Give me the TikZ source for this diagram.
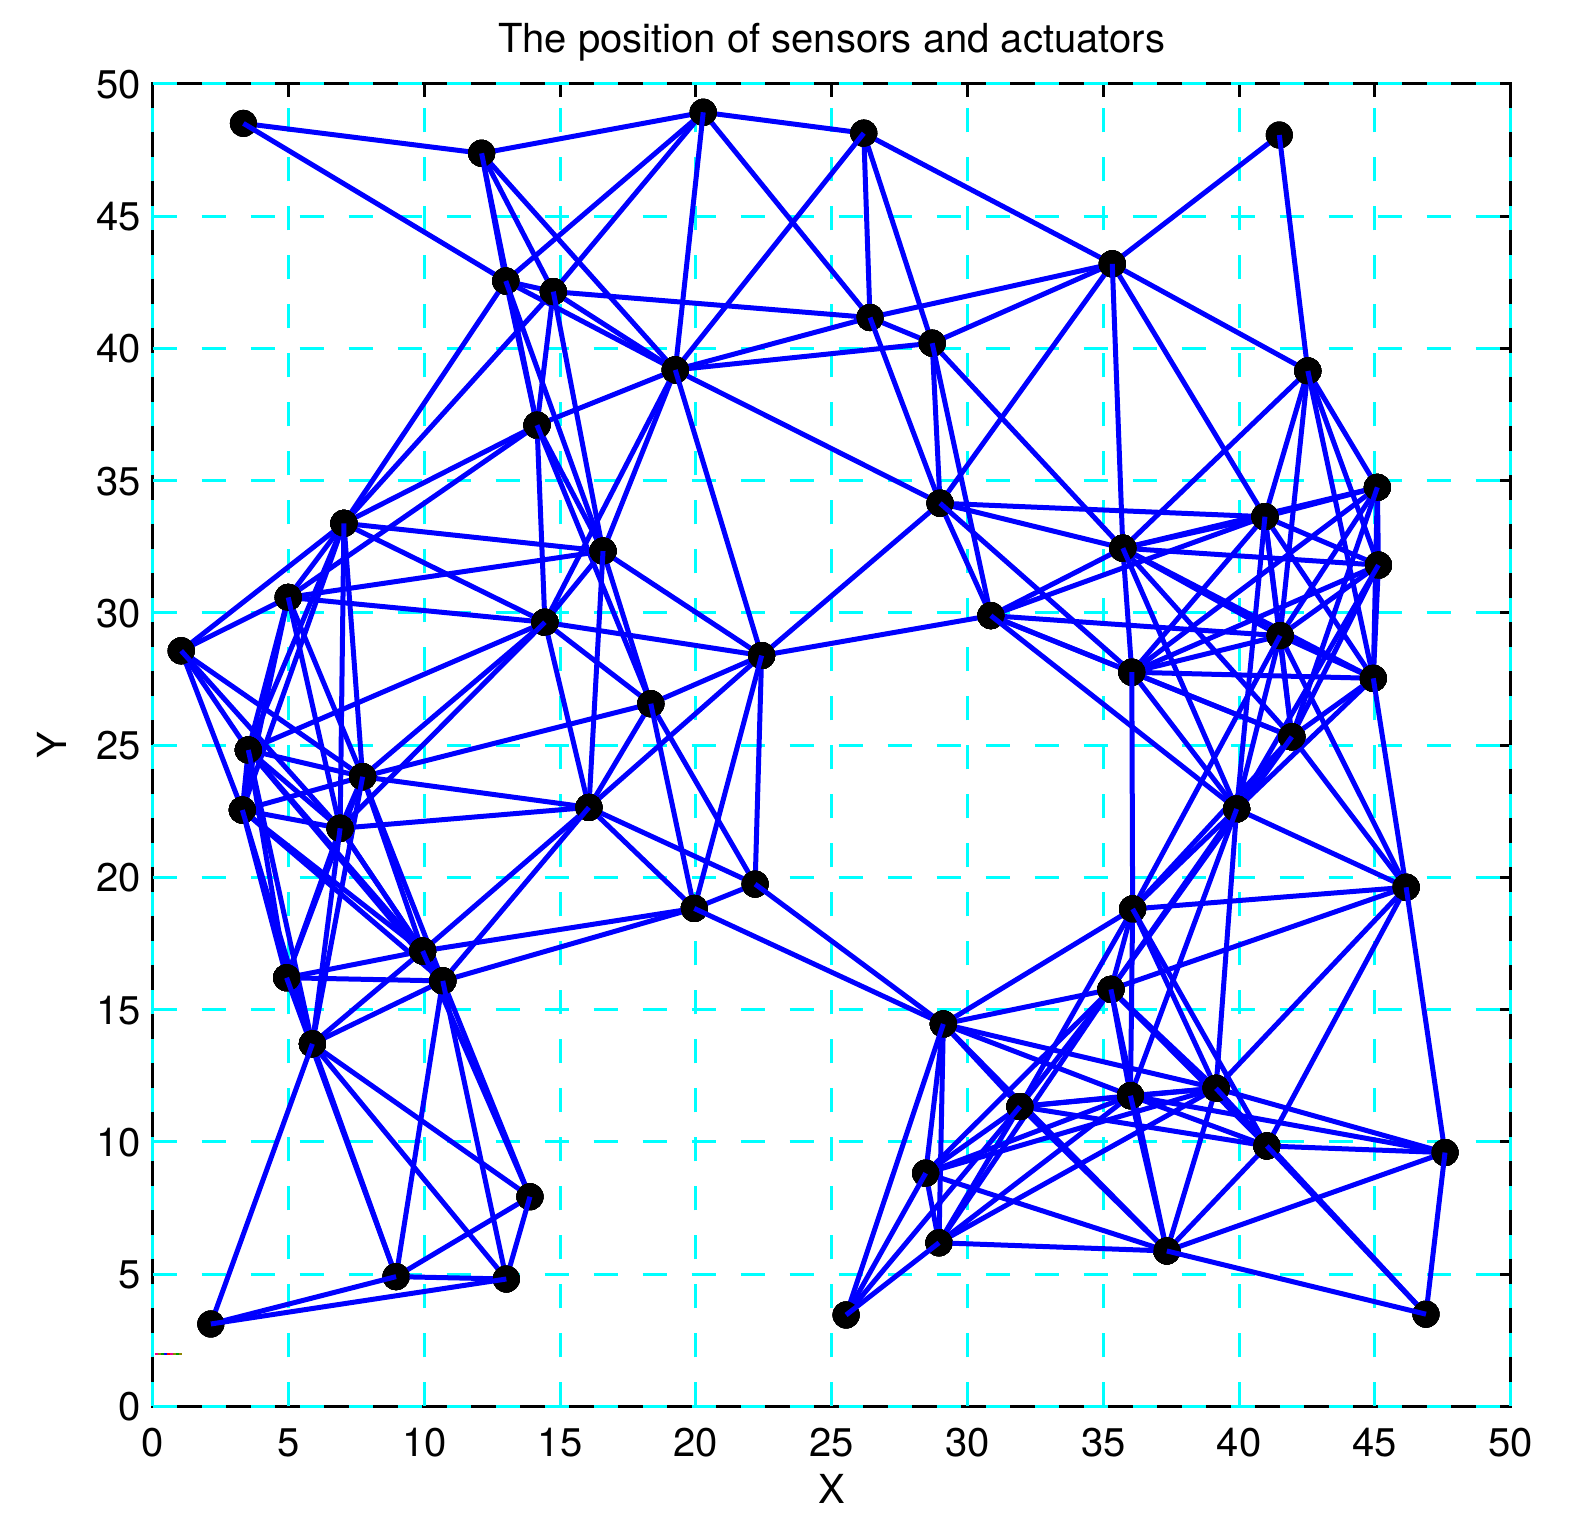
\documentclass[tikz,border=0pt]{standalone}
\usepackage{fontspec}
\setmainfont{TeX Gyre Heros}
\definecolor{gridcyan}{RGB}{0,255,255}
\definecolor{edgeblue}{RGB}{0,0,255}
\begin{document}
\begin{tikzpicture}[x=27.16pt,y=26.45pt,
  edge/.style={edgeblue, line width=5pt},
  dot/.style={circle, fill=black, inner sep=0pt, minimum size=27pt},
  gridline/.style={gridcyan, line width=3pt, dash pattern=on 24.5pt off 24.5pt},
  tick/.style={black, line width=3pt},
  lab/.style={font=\fontsize{40}{44}\selectfont, inner sep=0pt}]
\useasboundingbox (-152.7pt,-113.5pt) rectangle (1426.3pt,1406.5pt);
\fill[white] (-152.7pt,-113.5pt) rectangle (1426.3pt,1406.5pt);
% frame and ticks
\draw[tick] (0,0) rectangle (50,50);
\foreach \t in {0,5,...,50} {
  \draw[tick] (\t,0) -- ++(0,13pt);
  \draw[tick] (\t,50) -- ++(0,-13pt);
  \draw[tick] (0,\t) -- ++(13pt,0);
  \draw[tick] (50,\t) -- ++(-13pt,0);
}
% grid
\foreach \t in {0,5,...,50} {
  \draw[gridline] (\t,0) -- (\t,50);
  \draw[gridline] (0,\t) -- (50,\t);
}
% tiny legend-like mark
\foreach \c [count=\k from 0] in {magenta,olive,green!60!black,blue,red,magenta,olive,green!60!black,olive} {
  \draw[\c, line width=1.5pt] ([xshift=3*\k pt]0.08,1.98) -- ++(3pt,0);
}
% nodes
\foreach \i/\x/\y in {
1/3.34/48.51, 2/12.11/47.38, 3/20.27/48.93, 4/26.18/48.14, 5/41.48/48.07,
6/13.0/42.55, 7/14.75/42.15, 8/26.41/41.17, 9/28.7/40.2, 10/35.33/43.2,
11/19.24/39.19, 12/42.53/39.15, 13/14.15/37.1, 14/7.04/33.39, 15/28.99/34.15,
16/45.09/34.75, 17/40.95/33.64, 18/35.72/32.45, 19/16.58/32.34, 20/4.99/30.59,
21/45.13/31.81, 22/1.05/28.57, 23/14.44/29.65, 24/30.86/29.9, 25/41.51/29.14,
26/22.42/28.39, 27/36.05/27.76, 28/44.94/27.53, 29/18.34/26.57, 30/41.94/25.32,
31/3.52/24.82, 32/7.73/23.81, 33/3.3/22.55, 34/16.06/22.65, 35/6.9/21.86,
36/39.91/22.59, 37/22.18/19.75, 38/19.94/18.83, 39/46.15/19.63, 40/36.08/18.81,
41/9.94/17.22, 42/4.93/16.21, 43/10.68/16.09, 44/35.28/15.77, 45/29.11/14.46,
46/5.88/13.71, 47/39.15/12.03, 48/36.0/11.75, 49/31.93/11.34, 50/41.02/9.85,
51/47.58/9.6, 52/28.46/8.82, 53/13.89/7.93, 54/28.95/6.19, 55/37.34/5.88,
56/8.96/4.91, 57/13.02/4.82, 58/25.53/3.46, 59/46.88/3.49, 60/2.14/3.12} {
  \expandafter\xdef\csname px\i\endcsname{\x}
  \expandafter\xdef\csname py\i\endcsname{\y}
  \node[dot] (n\i) at (\x,\y) {};
}
% connectors: every pair closer than 12 units
\foreach \i in {1,...,59} {
  \pgfmathtruncatemacro\ii{\i+1}
  \edef\xa{\csname px\i\endcsname}\edef\ya{\csname py\i\endcsname}
  \foreach \j in {\ii,...,60} {
    \edef\xb{\csname px\j\endcsname}\edef\yb{\csname py\j\endcsname}
    \pgfmathsetmacro\dd{(\xa-\xb)*(\xa-\xb)+(\ya-\yb)*(\ya-\yb)}
    \ifdim\dd pt<144pt
      \fill (n\i) circle[radius=13.5pt];
      \fill (n\j) circle[radius=13.5pt];
      \draw[edge] (n\i.center) -- (n\j.center);
    \fi
  }
}
% labels
\foreach \t in {0,5,...,50} {
  \node[lab, anchor=base] (xl\t) at ([yshift=-49.5pt]\t,0) {\t};
  \node[lab, anchor=base east] (yl\t) at ([xshift=-11.7pt,yshift=-14.3pt]0,\t) {\t};
}
\node[lab, anchor=base] (title) at ([yshift=31pt]25,50) {The position of sensors and actuators};
\node[lab, anchor=base] (xlab) at ([yshift=-97pt]25,0) {X};
\node[lab, rotate=90, anchor=center] (ylab) at ([xshift=-100.3pt]0,25) {Y};
\end{tikzpicture}
\end{document}
